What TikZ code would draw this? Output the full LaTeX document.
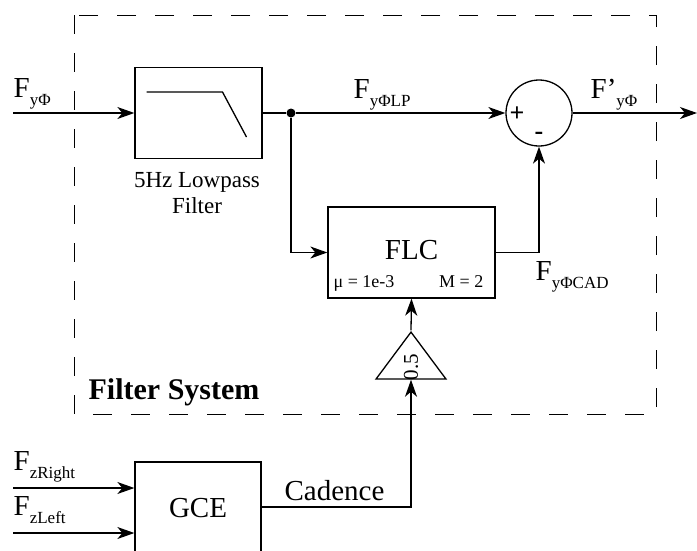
\documentclass[tikz,border=0pt]{standalone}
\usepackage{fontspec}
\setmainfont{Liberation Serif}
\usetikzlibrary{arrows.meta,shapes.geometric}

\newcommand{\sig}[2]{#1{\fontsize{17}{17}\selectfont\raisebox{-8pt}{#2}}}

\begin{document}
\begin{tikzpicture}[x=1pt,y=-1pt,line width=1.3pt,>={Stealth[length=17pt,width=12pt,inset=5pt]},
  block/.style={draw,rectangle,inner sep=0pt},
  lbl/.style={font=\fontsize{29}{30}\selectfont,inner sep=0pt,anchor=base west}]
  \useasboundingbox (0,0) rectangle (697,550);
  \clip (0,0) rectangle (697,550);

  % filter system frame
  \draw[line width=1pt,dash pattern=on 19pt off 19pt] (74,15) rectangle (656,414);
  \node[font=\fontsize{30}{30}\selectfont\bfseries,inner sep=0pt,anchor=base west] (sysname) at (88,399) {Filter System};

  % blocks
  \node[block,minimum width=127pt,minimum height=91pt] (lpf) at (198.5,113) {};
  \draw[shift={(lpf.center)}] (-52,-21) -- (24,-21) -- (48,24);
  \node[font=\fontsize{23}{26}\selectfont,align=center,inner sep=0pt] (lpfname) at (197,193) {5Hz Lowpass\\Filter};
  \node[draw,circle,minimum size=66pt,inner sep=0pt] (sum) at (539,113) {};
  \node[font=\fontsize{26}{26}\selectfont\bfseries,inner sep=0pt] (plus) at (517,114) {+};
  \node[font=\fontsize{26}{26}\selectfont\bfseries,inner sep=0pt] (minus) at (539,136) {-};
  \node[block,minimum width=167pt,minimum height=91pt] (flc) at (411.5,252.5) {};
  \node[lbl,anchor=base] (flcname) at (411.5,259) {FLC};
  \node[font=\fontsize{18}{18}\selectfont,inner sep=0pt,anchor=base west] (mu) at (333,287) {μ = 1e-3};
  \node[font=\fontsize{18}{18}\selectfont,inner sep=0pt,anchor=base east] (order) at (484,287) {M = 2};
  \node[draw,isosceles triangle,shape border rotate=90,isosceles triangle stretches,
        minimum width=70pt,minimum height=47pt,inner sep=0pt] (gain) at (411,361.5) {};
  \node[font=\fontsize{21}{21}\selectfont,rotate=90,inner sep=0pt] (gainval) at (411,367) {0.5};
  \node[block,minimum width=126pt,minimum height=90pt] (gce) at (198,507) {};
  \node[lbl,anchor=base] (gcename) at (198,517) {GCE};

  % junction and free ends
  \node[circle,fill,inner sep=0pt,minimum size=9pt] (split) at (291,113) {};
  \coordinate (in) at (13,113);
  \coordinate (out) at (697,113);
  \coordinate (inright) at (13,488);
  \coordinate (inleft) at (13,533);

  % connectors
  \draw[->] (in) -- (in -| lpf.west);
  \draw (lpf.east |- split) -- (split);
  \draw[->] (split) -- (sum.west);
  \draw[->] (sum.east) -- (out);
  \draw[->] (split) |- (flc.west);
  \draw[->] (flc.east) -| (sum.south);
  \draw[->] (gain.apex) -- (flc.south);
  \draw[->] (gce.east) -| (gain.south);
  \draw[->] (inright) -- (inright -| gce.west);
  \draw[->] (inleft) -- (inleft -| gce.west);

  % signal labels
  \node[lbl] (fy) at (13,97) {\sig{F}{yΦ}};
  \node[lbl] (fylp) at (353,98) {\sig{F}{yΦLP}};
  \node[lbl] (fyout) at (590,98) {\sig{F’}{yΦ}};
  \node[lbl] (fycad) at (535,280) {\sig{F}{yΦCAD}};
  \node[lbl] (fzr) at (13,470) {\sig{F}{zRight}};
  \node[lbl] (fzl) at (13,515) {\sig{F}{zLeft}};
  \node[lbl] (cad) at (284,500) {Cadence};
\end{tikzpicture}
\end{document}
